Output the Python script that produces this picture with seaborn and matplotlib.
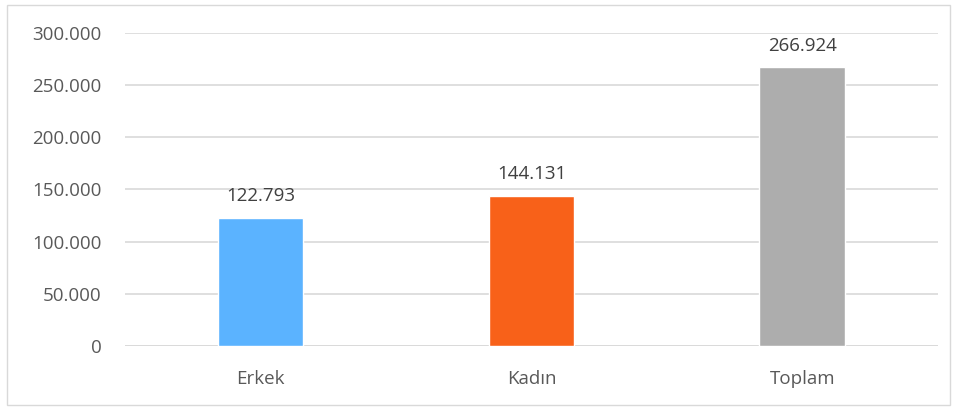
import matplotlib
matplotlib.use("Agg")
import matplotlib.pyplot as plt
import seaborn as sns
import pandas as pd
from matplotlib.patches import Rectangle

categories = ["Erkek", "Kadın", "Toplam"]
values = [122793, 144131, 266924]
colors = ["#5BB3FF", "#F86119", "#ADADAD"]
yticks = [0, 50000, 100000, 150000, 200000, 250000, 300000]

def fmt(v):
    return f"{int(v):,}".replace(",", ".")

sns.set_theme(style="white")
plt.rcParams['font.family'] = ['Open Sans', 'DejaVu Sans']

df = pd.DataFrame({"cat": categories, "val": values})
fig = plt.figure(figsize=(9.55, 4.07), dpi=100)
ax = fig.add_axes([0.131, 0.150, 0.851, 0.769])
sns.barplot(data=df, x="cat", y="val", hue="cat", palette=colors, width=0.317,
            legend=False, ax=ax, saturation=1, zorder=3)
ax.set_xlim(-0.5, 2.5)
ax.set_ylim(0, 300000)
ax.set_yticks(yticks)
ax.set_yticklabels([fmt(t) for t in yticks], fontsize=13.5, color="#595959")
ax.tick_params(axis="x", labelsize=13.5, colors="#595959", length=0, pad=17)
ax.tick_params(axis="y", length=0, pad=17)
ax.set_xlabel("")
ax.set_ylabel("")
ax.grid(axis="y", color="#D9D9D9", linewidth=1.2, zorder=0)
ax.set_axisbelow(True)
for s in ax.spines.values():
    s.set_visible(False)
ax.axhline(0, color="#D9D9D9", linewidth=1.2, zorder=0)
for i, v in enumerate(values):
    ax.annotate(fmt(v), (i, v), xytext=(0, 9), textcoords="offset points",
                ha="center", va="bottom", fontsize=13.5, color="#404040")
fig.patches.append(Rectangle((7/955, 2/407), 943/955, 400/407, transform=fig.transFigure,
                             fill=False, edgecolor="#D9D9D9", linewidth=1))
fig.savefig("out.png", dpi=100)
